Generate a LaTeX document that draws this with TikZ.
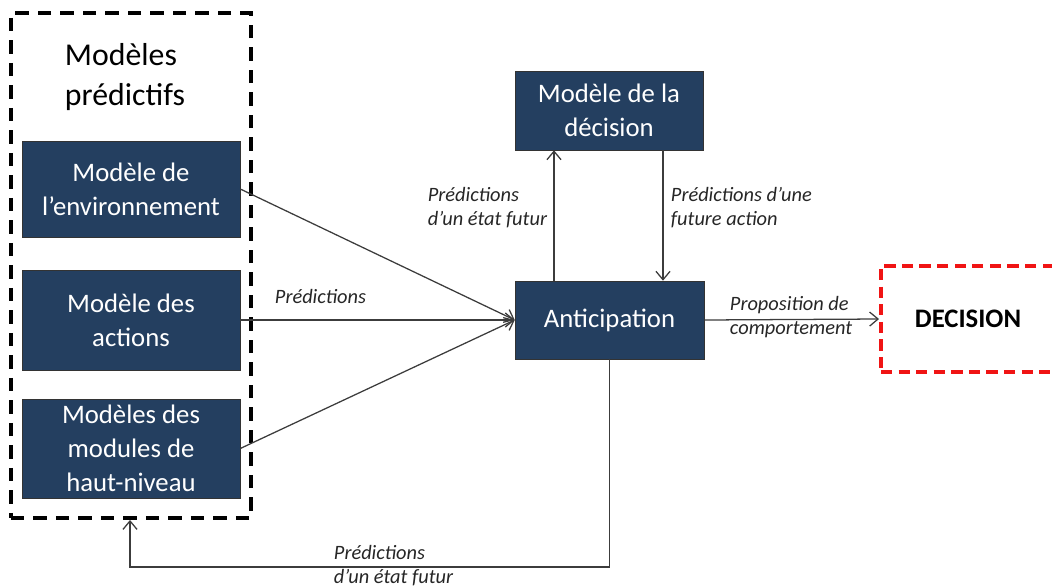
\documentclass[tikz,border=0pt]{standalone}
\usepackage{fontspec}
\setmainfont{Carlito}
\usepackage{tikz}
\usetikzlibrary{calc,arrows.meta}

\definecolor{boxblue}{RGB}{36,63,96}
\definecolor{linegray}{RGB}{60,60,60}
\definecolor{decred}{RGB}{240,20,20}

\tikzset{
	bluebox/.style={draw=black!80, fill=boxblue, text=white, align=center,
		font=\fontsize{19}{24}\selectfont, inner sep=0pt},
	label/.style={font=\fontsize{14.5}{17}\selectfont\itshape, align=left, text=black!85},
	link/.style={draw=linegray, line width=0.9pt, -{Straight Barb[length=6pt,width=10pt]}},
}

\begin{document}
\begin{tikzpicture}[x=0.025cm, y=-0.025cm]

	% ---- canvas

	\useasboundingbox (0,0) rectangle (1052,587);

	% ---- parameters

	\def\bw{218}
	\def\px{0.025cm}

	% ---- predictive models frame

	\node[draw, line width=2.8pt, dash pattern=on 9.5pt off 6.5pt,
		minimum width=240*\px, minimum height=505*\px] (frame) at (131,265.5) {};
	\node[anchor=west, align=left, font=\fontsize{22.6}{28.5}\selectfont] (title) at (60,77)
		{Modèles\\prédictifs};

	\node[bluebox, minimum width=\bw*\px, minimum height=96*\px] (env) at (131,189)
		{Modèle de\\l’environnement};
	\node[bluebox, minimum width=\bw*\px, minimum height=100*\px] (act) at (131,320)
		{Modèle des\\actions};
	\node[bluebox, minimum width=\bw*\px, minimum height=99*\px] (haut) at (131,448.5)
		{Modèles des\\modules de\\haut-niveau};

	% ---- anticipation and decision model

	\node[bluebox, minimum width=188*\px, minimum height=79*\px] (decmod) at (609,110.5)
		{Modèle de la\\décision};
	\node[bluebox, minimum width=189*\px, minimum height=78*\px] (antic) at (609.5,320)
		{Anticipation};

	% ---- decision

	\node[draw=decred, line width=2.8pt, dash pattern=on 8pt off 4.5pt,
		minimum width=174*\px, minimum height=106*\px, font=\fontsize{19}{24}\selectfont\bfseries]
		(decision) at (968,319) {DECISION};

	% ---- helper coordinates

	\coordinate (up) at (554,0);
	\coordinate (down) at (663,0);
	\coordinate (back) at (130,567);

	% ---- connectors

	\draw[link] (env.east) -- (antic.west);
	\draw[link] (act.east) -- (antic.west);
	\draw[link] (haut.east) -- (antic.west);

	\draw[link] (antic.north -| up) -- (decmod.south -| up);
	\draw[link] (decmod.south -| down) -- (antic.north -| down);

	\draw[link] (antic.east) -- (decision.west);

	\draw[link] (antic.south) |- (back) -- (frame.south -| back);

	% ---- labels

	\node[label, anchor=south west] (lpred) at (270,309) {Prédictions};
	\node[label, anchor=east] (lup) at (552,208) {Prédictions\\d’un état futur};
	\node[label, anchor=west] (ldown) at (666,208) {Prédictions d’une\\future action};
	\node[label, anchor=west] (lprop) at (725,317) {Proposition de\\comportement};
	\node[label, anchor=west] (lback) at (329,566) {Prédictions\\d’un état futur};

\end{tikzpicture}
\end{document}
